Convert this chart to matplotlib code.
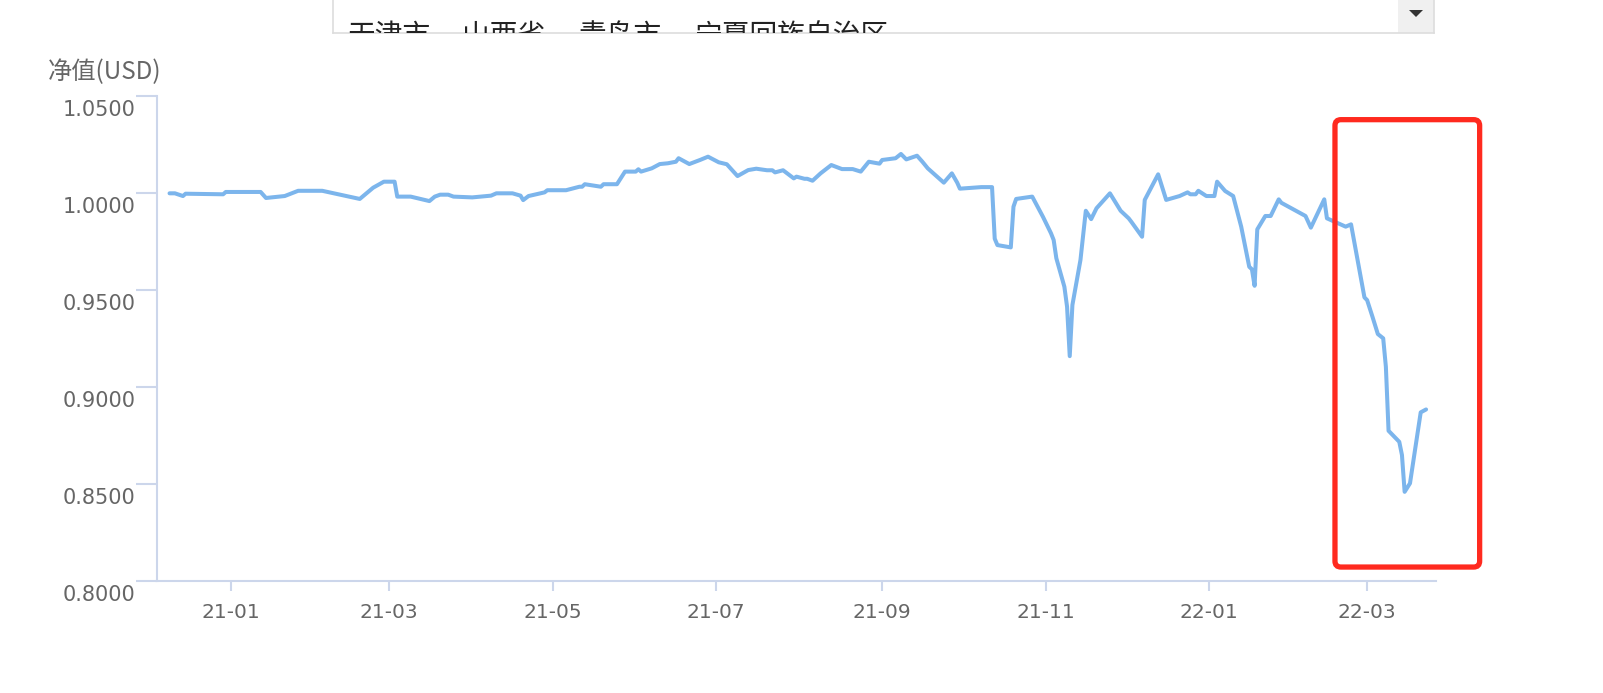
import matplotlib
matplotlib.use("Agg")
import matplotlib.pyplot as plt
import matplotlib.dates as mdates
import matplotlib.transforms as mtransforms
from matplotlib.patches import FancyBboxPatch, Rectangle, Polygon
import numpy as np
import pandas as pd

plt.rcParams['font.family'] = ['DejaVu Sans', 'Noto Sans CJK SC']

# ---------------- data ----------------
dates = [
    "2020-12-09", "2020-12-11", "2020-12-14", "2020-12-15", "2020-12-29", "2020-12-30",
    "2021-01-12", "2021-01-14", "2021-01-21", "2021-01-26", "2021-02-04", "2021-02-18",
    "2021-02-23", "2021-02-27", "2021-03-03", "2021-03-04", "2021-03-09", "2021-03-16",
    "2021-03-18", "2021-03-20", "2021-03-23", "2021-03-25", "2021-04-01", "2021-04-08",
    "2021-04-10", "2021-04-16", "2021-04-19", "2021-04-20", "2021-04-22", "2021-04-28",
    "2021-04-29", "2021-05-06", "2021-05-11", "2021-05-12", "2021-05-13", "2021-05-19",
    "2021-05-20", "2021-05-25", "2021-05-28", "2021-06-01", "2021-06-02", "2021-06-03",
    "2021-06-07", "2021-06-10", "2021-06-13", "2021-06-16", "2021-06-17", "2021-06-21",
    "2021-06-25", "2021-06-28", "2021-07-02", "2021-07-05", "2021-07-09", "2021-07-13",
    "2021-07-16", "2021-07-20", "2021-07-22", "2021-07-23", "2021-07-26", "2021-07-30",
    "2021-07-31", "2021-08-03", "2021-08-04", "2021-08-06", "2021-08-09", "2021-08-13",
    "2021-08-17", "2021-08-21", "2021-08-24", "2021-08-27", "2021-08-31", "2021-09-01",
    "2021-09-06", "2021-09-08", "2021-09-10", "2021-09-14", "2021-09-16", "2021-09-18",
    "2021-09-24", "2021-09-27", "2021-09-29", "2021-09-30", "2021-10-08", "2021-10-12",
    "2021-10-13", "2021-10-14", "2021-10-19", "2021-10-20", "2021-10-21", "2021-10-27",
    "2021-10-31", "2021-11-03", "2021-11-04", "2021-11-05", "2021-11-08", "2021-11-09",
    "2021-11-10", "2021-11-11", "2021-11-14", "2021-11-16", "2021-11-18", "2021-11-20",
    "2021-11-25", "2021-11-29", "2021-12-02", "2021-12-03", "2021-12-07", "2021-12-08",
    "2021-12-13", "2021-12-16", "2021-12-21", "2021-12-24", "2021-12-25", "2021-12-27",
    "2021-12-28", "2021-12-31", "2022-01-03", "2022-01-04", "2022-01-07", "2022-01-10",
    "2022-01-13", "2022-01-16", "2022-01-17", "2022-01-18", "2022-01-19", "2022-01-22",
    "2022-01-24", "2022-01-27", "2022-01-28", "2022-02-06", "2022-02-08", "2022-02-13",
    "2022-02-14", "2022-02-21", "2022-02-23", "2022-02-28", "2022-03-01", "2022-03-03",
    "2022-03-05", "2022-03-07", "2022-03-08", "2022-03-09", "2022-03-13", "2022-03-14",
    "2022-03-15", "2022-03-17", "2022-03-21", "2022-03-23",
]
nav = [
    1.0000, 1.0000, 0.9986, 0.9998, 0.9995, 1.0007,
    1.0007, 0.9976, 0.9986, 1.0013, 1.0013, 0.9971,
    1.0029, 1.0060, 1.0060, 0.9983, 0.9983, 0.9960,
    0.9983, 0.9993, 0.9993, 0.9983, 0.9979, 0.9988,
    1.0000, 1.0000, 0.9988, 0.9965, 0.9986, 1.0005,
    1.0016, 1.0016, 1.0034, 1.0034, 1.0047, 1.0034,
    1.0047, 1.0047, 1.0112, 1.0112, 1.0124, 1.0112,
    1.0129, 1.0151, 1.0155, 1.0163, 1.0181, 1.0151,
    1.0172, 1.0189, 1.0160, 1.0150, 1.0089, 1.0120,
    1.0127, 1.0119, 1.0119, 1.0108, 1.0119, 1.0077,
    1.0086, 1.0075, 1.0075, 1.0065, 1.0103, 1.0146,
    1.0125, 1.0125, 1.0112, 1.0163, 1.0153, 1.0172,
    1.0181, 1.0203, 1.0175, 1.0194, 1.0163, 1.0129,
    1.0055, 1.0103, 1.0055, 1.0024, 1.0032, 1.0032,
    0.9766, 0.9733, 0.9721, 0.9931, 0.9971, 0.9983,
    0.9879, 0.9794, 0.9759, 0.9665, 0.9518, 0.9415,
    0.9160, 0.9424, 0.9656, 0.9910, 0.9867, 0.9923,
    1.0000, 0.9910, 0.9871, 0.9853, 0.9776, 0.9966,
    1.0098, 0.9966, 0.9986, 1.0005, 0.9995, 0.9995,
    1.0013, 0.9986, 0.9986, 1.0060, 1.0012, 0.9986,
    0.9828, 0.9621, 0.9608, 0.9523, 0.9814, 0.9883,
    0.9883, 0.9969, 0.9951, 0.9883, 0.9823, 0.9969,
    0.9871, 0.9828, 0.9840, 0.9463, 0.9449, 0.9363,
    0.9274, 0.9252, 0.9105, 0.8775, 0.8718, 0.8650,
    0.8460, 0.8504, 0.8870, 0.8885,
]
y_ticks = [0.80, 0.85, 0.90, 0.95, 1.00, 1.05]
y_title = "净值(USD)"
regions = ["天津市", "山西省", "青岛市", "宁夏回族自治区"]

# highlight box (data coords)
hl_x0, hl_x1 = "2022-02-17", "2022-04-12"
hl_y0, hl_y1 = 0.8072, 1.0380

# ---------------- figure ----------------
W, H = 1603, 693
fig = plt.figure(figsize=(W / 100, H / 100), dpi=100)
fig.patch.set_facecolor("white")

def fx(px):
    return px / W

def fy(py):
    return 1 - py / H

ax_l, ax_r, ax_t, ax_b = 156.7, 1436, 96.4, 581
ax = fig.add_axes([fx(ax_l), fy(ax_b), fx(ax_r - ax_l), (ax_b - ax_t) / H])

x = pd.to_datetime(dates)
ax.plot(x, nav, color="#7cb5ec", lw=2.9, solid_joinstyle="round", solid_capstyle="round")

ax.set_ylim(0.80, 1.05)
ax.set_xlim(pd.Timestamp("2020-12-04 05:00"), pd.Timestamp("2022-03-26 17:00"))
ax.set_yticks(y_ticks)
ax.yaxis.set_major_formatter(plt.FuncFormatter(lambda v, p: f"{v:.4f}"))
ax.xaxis.set_major_locator(mdates.MonthLocator(bymonth=[1, 3, 5, 7, 9, 11]))
ax.xaxis.set_major_formatter(mdates.DateFormatter("%y-%m"))

axis_col = "#ccd6eb"
for s in ["top", "right"]:
    ax.spines[s].set_visible(False)
for s in ["left", "bottom"]:
    ax.spines[s].set_color(axis_col)
    ax.spines[s].set_linewidth(1.5)

ax.tick_params(axis="y", length=15, width=1.5, color=axis_col, pad=0,
               labelsize=15, labelcolor="#666666")
ax.tick_params(axis="x", length=7.5, width=1.5, color=axis_col, pad=8,
               labelsize=14.5, labelcolor="#666666")

# shift y tick labels slightly down, as in reference
off = mtransforms.ScaledTranslation(0, -12 / 100, fig.dpi_scale_trans)
for lab in ax.get_yticklabels():
    lab.set_transform(lab.get_transform() + off)

# axis title
fig.text(fx(48), fy(72), y_title, fontsize=17.5, color="#666666",
         family=["Noto Sans CJK SC", "DejaVu Sans"], ha="left", va="center")

# highlight rectangle (in display pixels computed from data coords)
p0 = ax.transData.transform((mdates.date2num(pd.Timestamp(hl_x0)), hl_y0))
p1 = ax.transData.transform((mdates.date2num(pd.Timestamp(hl_x1)), hl_y1))
rect = FancyBboxPatch((p0[0], p0[1]), p1[0] - p0[0], p1[1] - p0[1],
                      boxstyle="round,pad=0,rounding_size=6",
                      transform=mtransforms.IdentityTransform(),
                      fill=False, edgecolor="#ff2a1f", lw=3.8, clip_on=False)
fig.add_artist(rect)

# dropdown box at top
dd = fig.add_axes([fx(333), fy(33), fx(1434 - 333), 45 / H])
dd.set_xlim(333, 1434)
dd.set_ylim(33, -12)
dd.set_xticks([])
dd.set_yticks([])
for s in dd.spines.values():
    s.set_color("#dddddd")
    s.set_linewidth(1.2)
dd.add_patch(Rectangle((1398, -12), 36, 45, facecolor="#f0f0f0", edgecolor="none"))
dd.add_patch(Polygon([(1409, 10), (1423, 10), (1416, 17)], closed=True,
                     facecolor="#333333", edgecolor="none"))
starts = [348, 462, 578, 695]
for s_, r in zip(starts, regions):
    dd.text(s_, 44, r, fontsize=20, color="#222222",
            family=["Noto Sans CJK SC", "DejaVu Sans"], ha="left", va="baseline",
            clip_on=True)

fig.savefig("out.png", dpi=100, facecolor="white")
